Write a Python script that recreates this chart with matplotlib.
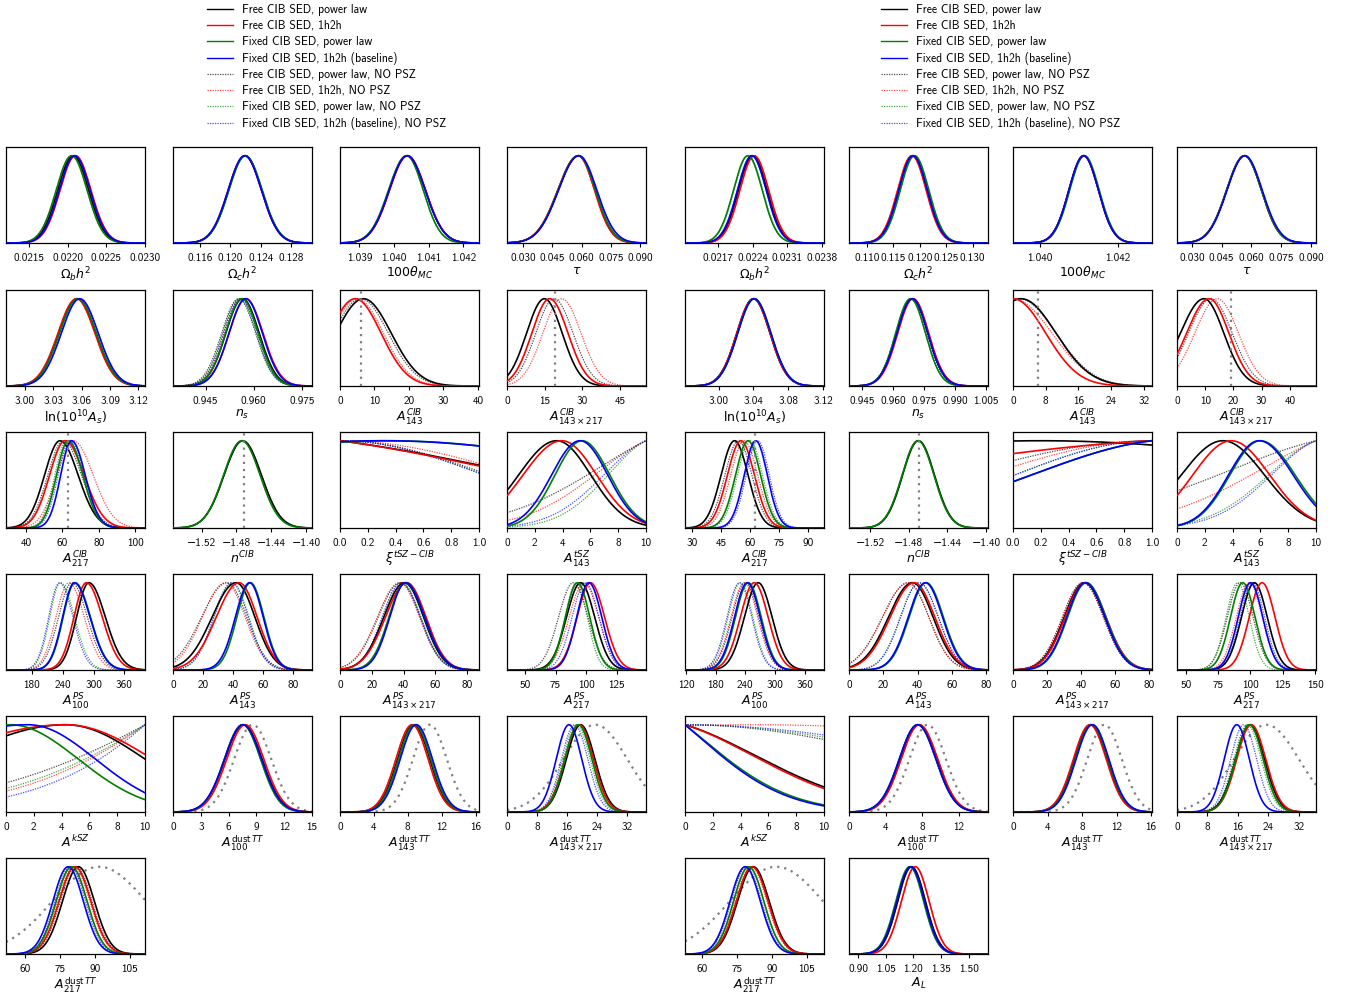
import numpy as np
import matplotlib.pyplot as plt
from matplotlib.lines import Line2D

plt.rcParams['font.family'] = ['cmss10', 'DejaVu Sans']
plt.rcParams['mathtext.fontset'] = 'dejavusans'
plt.rcParams['axes.formatter.use_mathtext'] = False

W, H = 1352, 996

run_names = ["Free CIB SED, power law", "Free CIB SED, 1h2h",
             "Fixed CIB SED, power law", "Fixed CIB SED, 1h2h (baseline)",
             "Free CIB SED, power law, NO PSZ", "Free CIB SED, 1h2h, NO PSZ",
             "Fixed CIB SED, power law, NO PSZ", "Fixed CIB SED, 1h2h (baseline), NO PSZ"]

param_labels = [r'$\Omega_b h^2$', r'$\Omega_c h^2$', r'$100\theta_{MC}$', r'$\tau$',
                r'$\mathrm{ln}(10^{10}A_s)$', r'$n_s$', r'$A^{CIB}_{143}$', r'$A^{CIB}_{143\times217}$',
                r'$A^{CIB}_{217}$', r'$n^{CIB}$', r'$\xi^{tSZ-CIB}$', r'$A^{tSZ}_{143}$',
                r'$A^{PS}_{100}$', r'$A^{PS}_{143}$', r'$A^{PS}_{143\times217}$', r'$A^{PS}_{217}$',
                r'$A^{kSZ}$', r'$A^{\mathrm{dust}\,TT}_{100}$', r'$A^{\mathrm{dust}\,TT}_{143}$',
                r'$A^{\mathrm{dust}\,TT}_{143\times217}$', r'$A^{\mathrm{dust}\,TT}_{217}$', r'$A_L$']

# ---- left set of runs ----
left_xlims = [(0.0212, 0.0230), (0.1124, 0.1308), (1.03844, 1.04245), (0.0216, 0.0931),
              (2.980, 3.127), (0.9348, 0.9782), (0, 40.3), (0, 55.4),
              (29, 105.5), (-1.553, -1.393), (0, 1), (0, 10),
              (130, 400), (0, 92.5), (0, 87.5), (35.3, 149),
              (0, 10), (0, 15), (0, 16.4), (0, 37),
              (52, 111.5)]
left_ticks = [["0.0215", "0.0220", "0.0225", "0.0230"], ["0.116", "0.120", "0.124", "0.128"],
              ["1.039", "1.040", "1.041", "1.042"], ["0.030", "0.045", "0.060", "0.075", "0.090"],
              ["3.00", "3.03", "3.06", "3.09", "3.12"], ["0.945", "0.960", "0.975"],
              ["0", "10", "20", "30", "40"], ["0", "15", "30", "45"],
              ["40", "60", "80", "100"], ["-1.52", "-1.48", "-1.44", "-1.40"],
              ["0.0", "0.2", "0.4", "0.6", "0.8", "1.0"], ["0", "2", "4", "6", "8", "10"],
              ["180", "240", "300", "360"], ["0", "20", "40", "60", "80"],
              ["0", "20", "40", "60", "80"], ["50", "75", "100", "125"],
              ["0", "2", "4", "6", "8", "10"], ["0", "3", "6", "9", "12", "15"],
              ["0", "4", "8", "12", "16"], ["0", "8", "16", "24", "32"],
              ["60", "75", "90", "105"]]
# marginals: (peak, sigma) or (peak, sigma_left, sigma_right); order = run_names
left_fits = [
    [(0.02207, 0.0002), (0.02210, 0.0002), (0.02205, 0.0002), (0.02209, 0.0002),
     (0.02207, 0.0002), (0.02210, 0.0002), (0.02205, 0.0002), (0.02209, 0.0002)],
    [(0.12195, 0.0022), (0.1219, 0.0022), (0.1220, 0.0022), (0.1219, 0.0022),
     (0.12195, 0.0022), (0.1219, 0.0022), (0.1220, 0.0022), (0.1219, 0.0022)],
    [(1.04038, 0.00052), (1.04039, 0.00052), (1.04036, 0.00052, 0.00048), (1.04038, 0.00052),
     (1.04038, 0.00052), (1.04039, 0.00052), (1.04036, 0.00052, 0.00048), (1.04038, 0.00052)],
    [(0.0583, 0.0105, 0.0086), (0.0582, 0.0105, 0.0084), (0.0584, 0.0105, 0.0087), (0.0586, 0.0105, 0.0092),
     (0.0583, 0.0105, 0.0086), (0.0582, 0.0105, 0.0084), (0.0584, 0.0105, 0.0087), (0.0586, 0.0105, 0.0092)],
    [(3.0554, 0.0195), (3.0545, 0.0195), (3.0560, 0.0195), (3.0580, 0.0195),
     (3.0554, 0.0195), (3.0545, 0.0195), (3.0560, 0.0195), (3.0580, 0.0195)],
    [(0.9565, 0.0052), (0.9576, 0.0053), (0.9563, 0.0051), (0.9575, 0.0052),
     (0.9553, 0.0053), (0.9560, 0.0053), (0.9555, 0.0052), (0.9558, 0.0052)],
    [(6.8, 8.05), (4.4, 7.5), None, None, (6.0, 8.0), (5.0, 7.6), None, None],
    [(14.9, 7.1), (17.0, 7.1, 7.3), None, None, (18.8, 7.3, 7.5), (21.8, 7.5, 7.7), None, None],
    [(58.7, 8.5, 10), (61.5, 8.5, 10.5), (63.3, 6.5, 8), (65.1, 6, 7.5),
     (60.5, 8.5, 10), (66.0, 9, 11), (62.4, 6.5, 8.5), (64.2, 6.5, 8)],
    [(-1.4728, 0.0215), None, (-1.4738, 0.021), None, (-1.4725, 0.0215), None, (-1.4735, 0.021), None],
    [(-0.8, 1.99), (-0.8, 1.95), (0.35, 1.85), (0.3, 1.99), (0, 1.077), (0, 1.29), (0, 1.04), (0, 1.04)],
    [(3.58, 2.75, 2.45), (3.95, 2.8, 2.5), (5.4, 1.95, 2.0), (5.25, 2.05, 2.0),
     (14, 7.2), (12, 5.33), (11, 3.6), (11, 3.92)],
    [(291, 24, 32), (286, 24, 31), (264, 23, 30), (263, 23, 30),
     (258, 26, 30), (252, 25, 30), (236, 21, 27), (234, 21, 26)],
    [(42, 16, 12.5), (44, 15.2, 12), (51.5, 9), (51, 9.5, 9),
     (36, 17, 13), (35, 15.5, 13), (39.5, 12, 11), (39, 12, 11)],
    [(40.6, 13, 12), (42.1, 13.5, 12), (41.3, 10.5, 12), (41.3, 10, 12),
     (38, 14, 12.5), (37.5, 14, 12.5), (39, 12), (38.5, 12)],
    [(95.5, 11.5), (103.6, 11, 11.5), (93, 10), (102.3, 10, 10.5),
     (89.5, 12), (98.2, 12), (92, 9), (99.5, 11)],
    [(4.3, 8.2, 5.7), (4.3, 9.8, 6.25), (0.3, 4.9), (1.6, 9.2, 4.83),
     (30, 15.1), (30, 13.2), (30, 13.8), (30, 11.9)],
    [(7.6, 2.0), (7.8, 2.0), (7.5, 1.95), (7.55, 2.0), (7.6, 2.0), (7.7, 2.0), (7.5, 1.95), (7.5, 1.95)],
    [(8.7, 1.9), (8.5, 1.9), (8.8, 1.9), (9.0, 1.9), (8.7, 1.9), (8.5, 1.9), (8.9, 1.9), (9.0, 1.9)],
    [(19.6, 3.8), (19.2, 3.8), (19.0, 3.6), (16.5, 3.4), (19.3, 3.8), (19.0, 3.8), (18.5, 3.6), (18.0, 3.5)],
    [(83, 6.8), (81.5, 6.8), (80.1, 6.6), (78.6, 6.5), (82, 6.8), (81, 6.8), (80, 6.6), (79.5, 6.5)],
]
left_priors = {17: (8.6, 2.0), 18: (10.6, 2.0), 19: (23.5, 8.5), 20: (91.9, 20.0)}
left_vlines = {6: 6.1, 7: 19.3, 8: 62.9, 9: -1.471}

# ---- right set of runs ----
right_xlims = [(0.02103, 0.02384), (0.1066, 0.1329), (1.0393, 1.04288), (0.0225, 0.0925),
               (2.9615, 3.121), (0.9387, 1.006), (0, 34), (0, 49.3),
               (26.3, 98.4), (-1.542, -1.398), (0, 1), (0, 10),
               (118, 399), (0, 81), (0, 81.5), (43, 150.8),
               (0, 10), (0, 15.2), (0, 16.1), (0, 36.5),
               (52.6, 112.4), (0.851, 1.604)]
right_ticks = [["0.0217", "0.0224", "0.0231", "0.0238"], ["0.110", "0.115", "0.120", "0.125", "0.130"],
               ["1.040", "1.042"], ["0.030", "0.045", "0.060", "0.075", "0.090"],
               ["3.00", "3.04", "3.08", "3.12"], ["0.945", "0.960", "0.975", "0.990", "1.005"],
               ["0", "8", "16", "24", "32"], ["0", "10", "20", "30", "40"],
               ["30", "45", "60", "75", "90"], ["-1.52", "-1.48", "-1.44", "-1.40"],
               ["0.0", "0.2", "0.4", "0.6", "0.8", "1.0"], ["0", "2", "4", "6", "8", "10"],
               ["120", "180", "240", "300", "360"], ["0", "20", "40", "60", "80"],
               ["0", "20", "40", "60", "80"], ["50", "75", "100", "125", "150"],
               ["0", "2", "4", "6", "8", "10"], ["0", "4", "8", "12"],
               ["0", "4", "8", "12", "16"], ["0", "8", "16", "24", "32"],
               ["60", "75", "90", "105"], ["0.90", "1.05", "1.20", "1.35", "1.50"]]
right_fits = [
    [(0.02240, 0.00029), (0.02243, 0.00029), (0.02230, 0.00029), (0.02238, 0.00029),
     (0.02240, 0.00029), (0.02243, 0.00029), (0.02231, 0.00029), (0.02238, 0.00029)],
    [(0.1187, 0.0027), (0.1185, 0.0027), (0.1190, 0.0027), (0.1187, 0.0027),
     (0.1187, 0.0027), (0.1185, 0.0027), (0.1190, 0.0027), (0.1187, 0.0027)],
    [(1.04112, 0.00038), (1.04112, 0.00038), (1.04114, 0.00038), (1.04112, 0.00038),
     (1.04112, 0.00038), (1.04112, 0.00038), (1.04114, 0.00038), (1.04112, 0.00038)],
    [(0.0565, 0.009, 0.0085), (0.0565, 0.009, 0.0085), (0.0565, 0.009, 0.0085), (0.0567, 0.009, 0.0087),
     (0.0565, 0.009, 0.0085), (0.0565, 0.009, 0.0085), (0.0565, 0.009, 0.0085), (0.0567, 0.009, 0.0087)],
    [(3.040, 0.019), (3.040, 0.019), (3.041, 0.019), (3.041, 0.019),
     (3.040, 0.019), (3.040, 0.019), (3.041, 0.019), (3.041, 0.019)],
    [(0.9694, 0.0075), (0.9698, 0.0075), (0.9685, 0.0072), (0.9694, 0.0075),
     (0.9690, 0.0075), (0.9694, 0.0075), (0.9685, 0.0072), (0.9690, 0.0075)],
    [(2.0, 8.5), (0.0, 8.0), None, None, (1.5, 9.0), (0.0, 9.5), None, None],
    [(9.6, 8.4, 7.0), (11.4, 8.0, 7.0), None, None, (12.1, 8.0, 7.5), (14.3, 8.0, 7.5), None, None],
    [(52, 7), (55.3, 7), (59, 6.5), (63, 6), (54, 7), (57, 7), (60, 6.5), (64, 6)],
    [(-1.470, 0.0165), None, (-1.4705, 0.0165), None, (-1.470, 0.0165), None, (-1.4705, 0.0165), None],
    [(0.2, 2.5), (1.5, 2.5), (1.2, 1.05), (1.2, 1.05), (1.0, 1.39), (1.0, 1.19), (1.0, 0.99), (1.0, 0.99)],
    [(3.3, 3.0), (3.9, 2.77), (6.0, 2.2, 2.5), (5.9, 2.2, 2.46), (14, 10.3), (14, 7.7), (11, 4.3), (11, 4.1)],
    [(266, 28), (258, 28), (246, 26), (244, 26), (240, 27), (238, 27), (230, 25), (228, 25)],
    [(37, 14, 12), (38, 14, 12), (45, 10), (44.5, 10), (34.5, 15, 12), (34.5, 15, 12), (41, 11), (41, 11)],
    [(42, 12), (42.5, 12), (43, 11, 11.5), (42.5, 11, 11.5), (41, 12), (41, 12), (42, 11.5), (42, 11.5)],
    [(103, 10), (109, 10), (94, 9.5), (100, 9.5), (92, 10), (99, 10), (90, 9), (101.5, 9.5)],
    [(-3, 8.0), (-3, 7.8), (-5, 6.3), (-5, 6.13), (0, 16.4), (5, 30), (0, 18), (0, 20)],
    [(7.6, 2.0), (7.7, 2.0), (7.5, 2.0), (7.5, 2.0), (7.6, 2.0), (7.7, 2.0), (7.5, 2.0), (7.5, 2.0)],
    [(9.0, 1.9), (8.9, 1.9), (9.1, 1.9), (9.2, 1.9), (9.0, 1.9), (8.9, 1.9), (9.1, 1.9), (9.2, 1.9)],
    [(19.2, 3.8), (19.5, 3.8), (19.0, 3.6), (15.7, 3.3), (19.0, 3.8), (19.2, 3.8), (18.5, 3.6), (17.5, 3.4)],
    [(82, 6.8), (81.5, 6.8), (80, 6.5), (78.5, 6.5), (81.5, 6.8), (81, 6.8), (80, 6.5), (79, 6.5)],
    [(1.19, 0.075), (1.21, 0.075), (1.18, 0.075), (1.185, 0.075),
     (1.19, 0.075), (1.21, 0.075), (1.18, 0.075), (1.185, 0.075)],
]
right_priors = {17: (8.6, 2.0), 18: (10.6, 2.0), 19: (23.5, 8.5), 20: (91.9, 20.0)}
right_vlines = {6: 6.1, 7: 19.3, 8: 62.6, 9: -1.47}

line_colors = ['black', 'red', 'green', 'blue'] * 2
line_dashes = ['-'] * 4 + [(0, (1, 1))] * 4

# pixel layout of the panel grid
left_cols = [6, 173, 340, 507]
right_cols = [685, 849, 1013, 1177]
row_tops = [147, 290, 432, 574, 716, 858]
panel_w, panel_h = 139, 96


def marginal(x, fit):
    peak = fit[0]
    sl = fit[1]
    sr = fit[2] if len(fit) > 2 else fit[1]
    s = np.where(x < peak, sl, sr)
    y = np.exp(-0.5 * ((x - peak) / s) ** 2)
    return y / y.max()


def draw_group(fig, cols, xlims, ticks, fits, priors, vlines, labels):
    for i in range(len(xlims)):
        r, c = divmod(i, 4)
        x0, y0 = cols[c], row_tops[r]
        ax = fig.add_axes([x0 / W, 1 - (y0 + panel_h) / H, panel_w / W, panel_h / H])
        x = np.linspace(xlims[i][0], xlims[i][1], 400)
        if i in priors:
            m, s = priors[i]
            ax.plot(x, marginal(x, (m, s)), color='gray', lw=1.6, ls=(0, (1, 2.2)))
        for j, fit in enumerate(fits[i]):
            if fit is None:
                continue
            solid = j < 4
            ax.plot(x, marginal(x, fit), color=line_colors[j], ls=line_dashes[j],
                    lw=1.2 if solid else 0.9, alpha=1.0 if solid else 0.7, zorder=3 if solid else 2)
        if i in vlines:
            ax.axvline(vlines[i], color='gray', lw=1.6, ls=(0, (1, 2.2)), zorder=4)
        ax.set_xlim(*xlims[i])
        ax.set_ylim(0, 1.1)
        ax.set_yticks([])
        ax.set_xticks([float(t) for t in ticks[i]],
                      [t.replace('-', '\u2212') for t in ticks[i]])
        ax.tick_params(axis='x', labelsize=8, length=3, width=0.8, pad=4)
        ax.set_xlabel(labels[i], fontsize=9, labelpad=1.5)
        for sp in ax.spines.values():
            sp.set_linewidth(0.9)


def add_legend(fig, x_px):
    handles = [Line2D([], [], color=line_colors[j], ls=line_dashes[j],
                      lw=1.0 if j < 4 else 0.9, alpha=1.0 if j < 4 else 0.7)
               for j in range(8)]
    fig.legend(handles, run_names, loc='upper left', bbox_to_anchor=(x_px / W, 1 - 4 / H),
               frameon=False, fontsize=8.4, handlelength=2.2, handletextpad=0.8,
               labelspacing=0.34, borderaxespad=0, borderpad=0)


fig = plt.figure(figsize=(W / 100, H / 100), dpi=100)
draw_group(fig, left_cols, left_xlims, left_ticks, left_fits, left_priors, left_vlines, param_labels)
draw_group(fig, right_cols, right_xlims, right_ticks, right_fits, right_priors, right_vlines, param_labels)
add_legend(fig, 207)
add_legend(fig, 881)
fig.savefig('out.png', dpi=100)
